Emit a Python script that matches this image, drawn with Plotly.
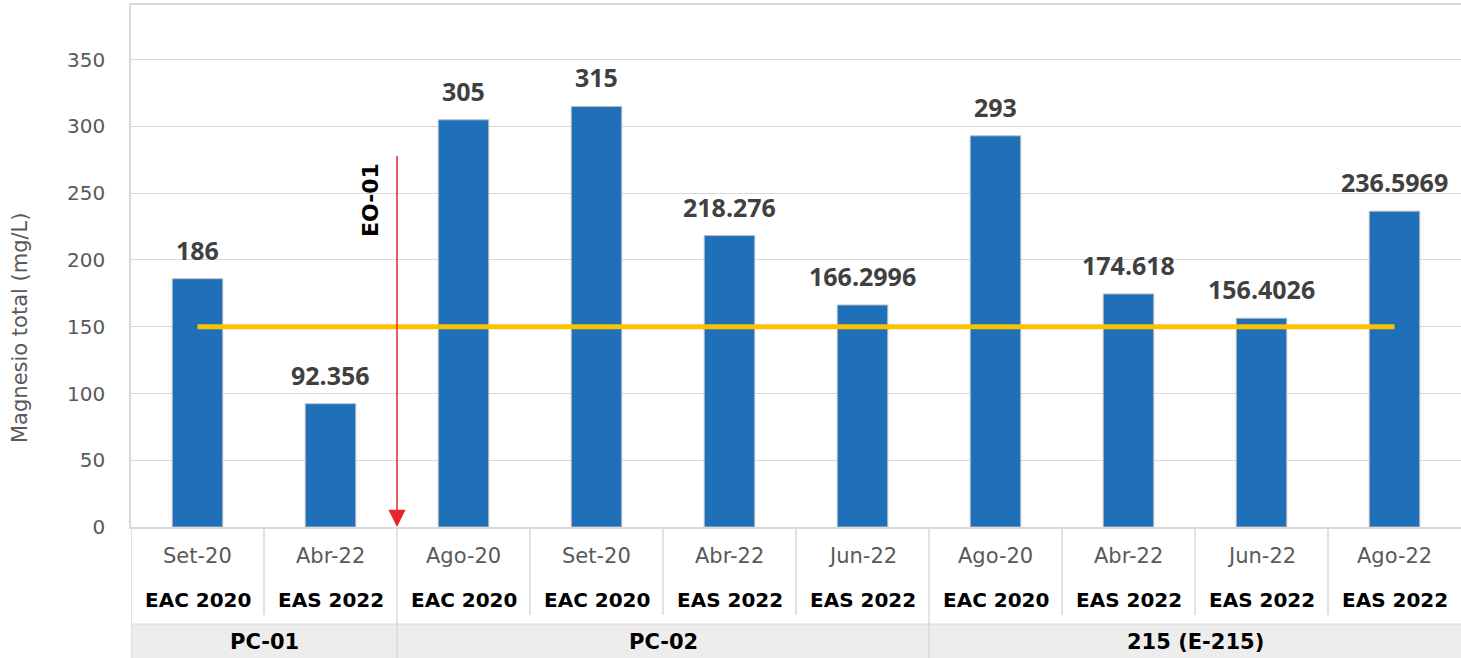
import plotly.graph_objects as go

# Data
fechas = ['Set-20', 'Abr-22', 'Ago-20', 'Set-20', 'Abr-22', 'Jun-22',
          'Ago-20', 'Abr-22', 'Jun-22', 'Ago-22']
estudios = ['EAC 2020', 'EAS 2022', 'EAC 2020', 'EAC 2020', 'EAS 2022', 'EAS 2022',
            'EAC 2020', 'EAS 2022', 'EAS 2022', 'EAS 2022']
magnesio = [186, 92.356, 305, 315, 218.276, 166.2996, 293, 174.618, 156.4026, 236.5969]
etiquetas = ['186', '92.356', '305', '315', '218.276', '166.2996',
             '293', '174.618', '156.4026', '236.5969']
grupos = ['PC-01', 'PC-02', '215 (E-215)']
grupo_n = [2, 4, 4]
eca = 150          # valor de referencia
eo01_top = 279     # inicio de la flecha EO-01

FONT = 'DejaVu Sans'
FONT_LBL = 'Open Sans'
GRIS = '#595959'
LINEA = '#d9d9d9'

x = list(range(len(magnesio)))

fig = go.Figure()
fig.add_trace(go.Bar(x=x, y=magnesio, width=0.38,
                     marker=dict(color='#1f70b8', line=dict(color='#bfbfbf', width=1)),
                     hoverinfo='y', showlegend=False))
fig.add_trace(go.Scatter(x=[x[0], x[-1]], y=[eca, eca], mode='lines',
                         line=dict(color='#fcc200', width=5),
                         hoverinfo='skip', showlegend=False))

anns = []
# etiquetas de datos
for xi, v, t in zip(x, magnesio, etiquetas):
    anns.append(dict(x=xi, y=v, text=t, showarrow=False, yanchor='bottom', yshift=10,
                     font=dict(family=FONT_LBL, size=25, color='#404040', weight='bold')))

# flecha EO-01
anns.append(dict(x=1.5, y=0, ax=1.5, ay=eo01_top, xref='x', yref='y', axref='x', ayref='y',
                 text='', showarrow=True, arrowhead=2, arrowsize=2.3, arrowwidth=1.5,
                 arrowcolor='#e8262a', standoff=0))
anns.append(dict(x=1.305, y=245, text='EO-01', textangle=-90, showarrow=False,
                 font=dict(family=FONT, size=22, color='black', weight='bold')))

# tabla inferior
ph = 522.0
def py(px):
    return -(px - 527) / ph

anns.append(dict(x=-(131 - 20) / 1330, y=py(328), xref='paper', yref='paper',
                 xanchor='center', yanchor='middle',
                 text='Magnesio total (mg/L)', textangle=-90, showarrow=False,
                 font=dict(family=FONT, size=21, color=GRIS)))

for xi, f, e in zip(x, fechas, estudios):
    anns.append(dict(x=xi, y=py(556), xref='x', yref='paper', text=f, showarrow=False,
                     xanchor='center', yanchor='middle',
                     font=dict(family=FONT, size=21, color=GRIS)))
    anns.append(dict(x=xi, y=py(600), xref='x', yref='paper', text=e, showarrow=False,
                     xanchor='center', yanchor='middle',
                     font=dict(family=FONT, size=20, color='black', weight='bold')))

shapes = []
shapes.append(dict(type='rect', xref='x', yref='paper', x0=-0.5, x1=9.5,
                   y0=py(624), y1=py(660), fillcolor='#ededed', line=dict(width=0), layer='below'))
shapes.append(dict(type='line', xref='x', yref='paper', x0=-0.5, x1=9.5,
                   y0=py(624), y1=py(624), line=dict(color=LINEA, width=1)))

start = 0
limites = [-0.5]
for g, n in zip(grupos, grupo_n):
    centro = start + (n - 1) / 2
    anns.append(dict(x=centro, y=py(642), xref='x', yref='paper', text=g, showarrow=False,
                     xanchor='center', yanchor='middle',
                     font=dict(family=FONT, size=21, color='black', weight='bold')))
    start += n
    limites.append(start - 0.5)

for b in range(1, len(x)):
    xb = b - 0.5
    if xb in limites:
        continue
    shapes.append(dict(type='line', xref='x', yref='paper', x0=xb, x1=xb,
                       y0=py(528), y1=py(615), line=dict(color=LINEA, width=1.5)))
for xb in limites[:-1]:
    shapes.append(dict(type='line', xref='x', yref='paper', x0=xb, x1=xb,
                       y0=0, y1=py(660), line=dict(color=LINEA, width=1.5)))

fig.update_layout(
    width=1461, height=658,
    margin=dict(l=131, r=0, t=5, b=131),
    plot_bgcolor='white', paper_bgcolor='white',
    font=dict(family=FONT, color=GRIS),
    xaxis=dict(range=[-0.5, 9.5], showticklabels=False, showgrid=False, zeroline=False,
               showline=True, linecolor=LINEA, linewidth=1.5, mirror=True, ticks=''),
    yaxis=dict(range=[0, 391], tickvals=list(range(0, 351, 50)), showgrid=True,
               gridcolor=LINEA, gridwidth=1, zeroline=False, showline=True,
               linecolor=LINEA, linewidth=1.5, ticks='', ticklabelstandoff=20,
               tickfont=dict(family=FONT, size=20, color=GRIS)),
    annotations=anns,
    shapes=shapes,
)

fig.write_html('out.html', config=dict(displayModeBar=False),
               post_script="document.body.style.margin='0px';")
